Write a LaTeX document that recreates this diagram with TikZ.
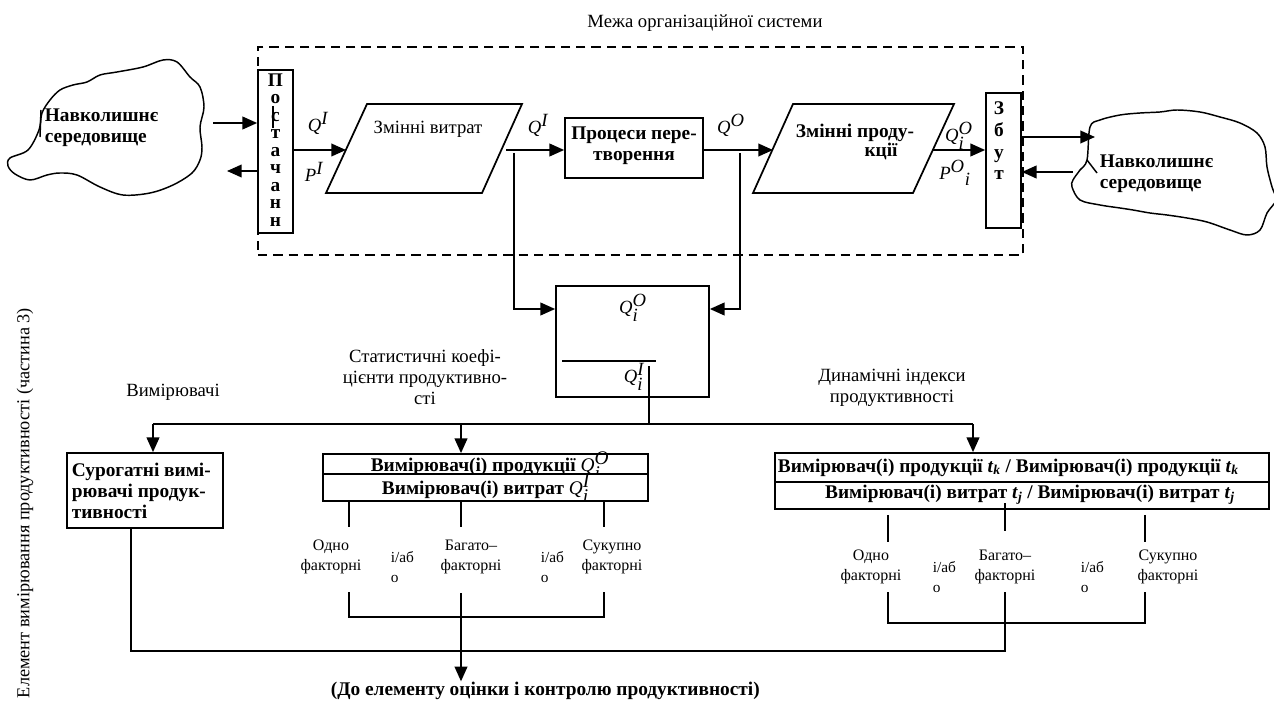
\documentclass[tikz,border=0pt]{standalone}
\usepackage{fontspec}
\setmainfont{Liberation Serif}
\usetikzlibrary{arrows.meta,fit,calc}

\begin{document}
\begin{tikzpicture}[
  x=0.75pt, y=-0.75pt,
  font=\fontsize{14}{15.75}\selectfont,
  line width=1.3pt,
  arr/.style={-{Triangle[length=11pt,width=9.5pt]}},
  box/.style={draw, inner sep=0pt},
  lbl/.style={inner sep=0pt, align=center},
  bt/.style={inner sep=0pt, font=\fontsize{14.5}{15.75}\selectfont\bfseries},
  fac/.style={inner sep=0pt, align=center, font=\fontsize{12}{15.5}\selectfont},
  orl/.style={inner sep=0pt, align=left, anchor=west, font=\fontsize{11.5}{14.5}\selectfont},
]
\useasboundingbox (0,0) rectangle (1274,706);

% ---- system boundary ----
\node[lbl] (title) at (705,23) {Межа організаційної системи};
\node[draw, dashed, line width=0.8pt, dash pattern=on 7pt off 4.5pt, inner sep=0pt,
      fit={(258,47)(1023,255)}] (border) {};

% ---- left environment cloud ----
\draw[line width=1.1pt] plot[smooth cycle, tension=0.55] coordinates {
  (42,113) (39,130) (28,150) (10,158) (8,166) (15,174) (30,180) (47,175)
  (60,173) (77,175) (100,187) (123,195) (150,193) (173,185) (192,173) (200,160)
  (202,147) (200,127) (204,107) (200,87) (190,77) (177,62) (163,60) (143,67)
  (117,72) (100,75) (87,82) (73,85) (60,90) (50,100)};
\draw[line width=1.1pt] (41,110) -- (40,137);
\node[bt, align=left, anchor=west] (envL) at (44,128) {Навколишнє\\середовище};
\coordinate (envLout) at (213,123);
\coordinate (envLin) at (227,171);

% ---- supply ----
\node[box, fit={(258,70)(293,233)}] (post) {};
\begin{scope}
  \clip (258,70) rectangle (293,233);
  \node[bt, align=center, anchor=north, font=\fontsize{14.5}{13.1}\selectfont\bfseries]
    (postlbl) at (275.5,73) {П\\о\\с\\т\\а\\ч\\а\\н\\н\\я};
\end{scope}
\draw[line width=0.9pt] (273,106) -- (273,128);
\draw[arr] (envLout) -- (post.west |- envLout);
\draw[arr] (post.west |- envLin) -- (envLin);
\node[lbl] (qI1) at (318,123) {\textit{Q}$^{\textit{I}}$};
\node[lbl] (pI1) at (314,172) {\textit{P}$^{\textit{I}}$};

% ---- input variables (parallelogram) ----
\coordinate (inpW) at (346,150);
\coordinate (inpE) at (506,150);
\draw (367,104) -- (522,104) -- (482,193) -- (326,193) -- cycle;
\node[lbl] (inplbl) at (428,129) {Змінні витрат};
\draw[arr] (post.east |- inpW) -- (inpW);

% ---- transformation ----
\node[box, fit={(565,118)(703,178)}] (proc) {};
\node[bt, align=center] (proclbl) at (634,146) {Процеси пере-\\творення};
\draw[arr] (inpE) -- (proc.west |- inpE);
\node[lbl] (qI2) at (538,125) {\textit{Q}$^{\textit{I}}$};

% ---- output variables (parallelogram) ----
\coordinate (outW) at (773,150);
\coordinate (outE) at (933,150);
\draw (793,104) -- (954,104) -- (913,193) -- (753,193) -- cycle;
\node[bt] (outlbl1) at (855,133) {Змінні проду-};
\node[bt] (outlbl2) at (881,151) {кції};
\draw[arr] (proc.east |- outW) -- (outW);
\node[lbl] (qO) at (731,125) {\textit{Q}$^{\textit{O}}$};

% ---- sales ----
\node[box, fit={(986,93)(1021,228)}] (zbut) {};
\node[bt, align=center, anchor=north, font=\fontsize{14.5}{16.3}\selectfont\bfseries]
  (zbutlbl) at (999,101) {З\\б\\у\\т};
\draw[arr] (outE) -- (zbut.west |- outE);
\node[lbl] (qiO) at (959,136) {\textit{Q}$_{\textit{i}}^{\textit{O}}$};
\node[lbl] (piO) at (955,173) {\textit{P}$^{\textit{O}}{}_{\textit{i}}$};

% ---- right environment cloud ----
\draw[line width=1.1pt] plot[smooth cycle, tension=0.55] coordinates {
  (1090,127) (1100,120) (1120,115) (1140,113) (1160,112) (1177,110) (1200,112)
  (1220,117) (1240,123) (1257,133) (1265,147) (1267,167) (1272,187) (1276,200)
  (1267,213) (1260,230) (1247,235) (1230,230) (1207,222) (1187,218) (1167,215)
  (1150,213) (1133,210) (1120,208) (1100,205) (1080,200) (1072,187) (1073,180)
  (1080,170) (1087,160)};
\draw[line width=1.1pt] (1087,160) -- (1097,173);
\node[bt, align=left, anchor=west] (envR) at (1099,174) {Навколишнє\\середовище};
\coordinate (envRin) at (1095,137);
\coordinate (envRout) at (1073,172);
\draw[arr] (zbut.east |- envRin) -- (envRin);
\draw[arr] (envRout) -- (zbut.east |- envRout);

% ---- productivity ratio ----
\node[box, fit={(556,286)(709,397)}] (ratio) {};
\node[lbl] (ratioO) at (633,308) {\textit{Q}$_{\textit{i}}^{\textit{O}}$};
\node[lbl] (ratioI) at (634,377) {\textit{Q}$_{\textit{i}}^{\textit{I}}$};
\draw (562,361) -- (656,361);
\coordinate (tapI) at (514,153);
\coordinate (tapO) at (740,153);
\draw[arr] (tapI) |- (ratio.west |- 0,309);
\draw[arr] (tapO) |- (ratio.east |- 0,309);

% ---- distribution bus ----
\coordinate (ratioTap) at (649,366);
\coordinate (busL) at (153,424);
\coordinate (busM) at (461,424);
\coordinate (busR) at (973,424);
\draw (busL) -- (busR);
\draw (ratioTap) -- (ratioTap |- busL);

\node[lbl] (meas) at (173,392) {Вимірювачі};
\node[lbl] (stat) at (425,377) {Статистичні коефі-\\цієнти продуктивно-\\сті};
\node[lbl] (dyn) at (892,388) {Динамічні індекси\\продуктивності};

% ---- surrogate measures ----
\node[box, fit={(67,453)(223,528)}] (surr) {};
\node[bt, align=left, anchor=west, font=\fontsize{14.5}{16}\selectfont\bfseries]
  (surrlbl) at (71,491) {Сурогатні вимі-\\рювачі продук-\\тивності};
\draw[arr] (busL) -- (busL |- surr.north);

% ---- statistical ratios ----
\node[box, fit={(323,454)(648,474)}] (stat1) {};
\node[bt, anchor=base] (stat1lbl) at (490,471.5) {Вимірювач(і) продукції {\mdseries\textit{Q}$^{\textit{O}}_{\textit{i}}$}};
\node[box, fill=white, fit={(323,474)(648,501)}] (stat2) {};
\node[bt] (stat2lbl) at (486,489) {Вимірювач(і) витрат {\mdseries\textit{Q}$^{\textit{I}}_{\textit{i}}$}};
\draw[arr] (busM) -- (busM |- stat1.north);

\coordinate (sa) at (349,527);
\coordinate (sb) at (461,527);
\coordinate (sc) at (604,527);
\draw (stat2.south -| sa) -- (sa);
\draw (stat2.south -| sb) -- (sb);
\draw (stat2.south -| sc) -- (sc);
\node[fac] (s1) at (331,557) {Одно\\факторні};
\node[orl] (s2) at (390,567) {і/аб\\о};
\node[fac] (s3) at (471,557) {Багато–\\факторні};
\node[orl] (s4) at (540,567) {і/аб\\о};
\node[fac] (s5) at (612,557) {Сукупно\\факторні};
\coordinate (sa2) at (349,592);
\coordinate (sb2) at (461,593);
\coordinate (sc2) at (604,592);
\draw (sa2) -- (349,617) -- (604,617) -- (sc2);

% ---- dynamic indices ----
\node[box, fit={(775,453)(1269,482)}] (dyn1) {};
\node[bt, anchor=base west] (dyn1lbl) at (777,472)
  {Вимірювач(і) продукції \textit{t}\textsubscript{\textit{k}} / Вимірювач(і) продукції \textit{t}\textsubscript{\textit{k}}};
\node[box, fit={(775,482)(1269,509)}] (dyn2) {};
\node[bt] (dyn2lbl) at (1030,495)
  {Вимірювач(і) витрат \textit{t}\textsubscript{\textit{j}} / Вимірювач(і) витрат \textit{t}\textsubscript{\textit{j}}};
\draw[arr] (busR) -- (busR |- dyn1.north);

\coordinate (da) at (888,542);
\coordinate (db) at (1005,531);
\coordinate (dc) at (1145,542);
\draw (dyn2.south -| da) ++(0,5) -- (da);
\draw (1005,503) -- (db);
\draw (dyn2.south -| dc) ++(0,5) -- (dc);
\node[fac] (d1) at (871,567) {Одно\\факторні};
\node[orl] (d2) at (932,577) {і/аб\\о};
\node[fac] (d3) at (1005,567) {Багато–\\факторні};
\node[orl] (d4) at (1080,577) {і/аб\\о};
\node[fac] (d5) at (1168,567) {Сукупно\\факторні};
\coordinate (da2) at (888,592);
\coordinate (db2) at (1005,592);
\coordinate (dc2) at (1145,592);
\draw (da2) -- (888,623) -- (1145,623) -- (dc2);

% ---- collection towards evaluation ----
\node[bt, anchor=west] (toeval) at (330,691) {(До елементу оцінки і контролю продуктивності)};
\draw (db2) -- (1005,651) -| (surr.south -| 131,0);
\draw[arr] (sb2) -- (sb2 |- toeval.north);

% ---- side caption ----
\node[lbl, rotate=90, font=\fontsize{13.7}{15}\selectfont] (side) at (25,503)
  {Елемент вимірювання продуктивності (частина 3)};
\end{tikzpicture}
\end{document}
